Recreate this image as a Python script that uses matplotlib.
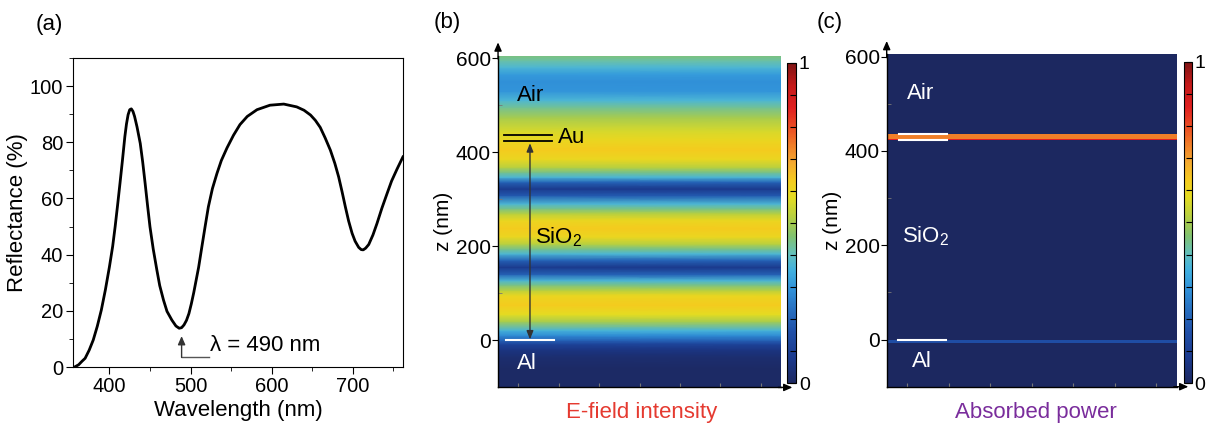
import matplotlib

matplotlib.use("Agg")
import matplotlib.pyplot as plt  # noqa: E402
import numpy as np  # noqa: E402
from matplotlib.colors import LinearSegmentedColormap  # noqa: E402
from matplotlib.ticker import MultipleLocator  # noqa: E402

plt.rcParams["font.family"] = ["Liberation Sans", "DejaVu Sans"]
plt.rcParams["mathtext.fontset"] = "custom"
plt.rcParams["mathtext.rm"] = "Liberation Sans"
plt.rcParams["mathtext.it"] = "Liberation Sans:italic"

# (a) reflectance spectrum
wavelength = [357, 362, 366, 370, 375, 380, 385, 390, 395, 400, 404, 407, 410, 413, 416,
              419, 421, 423, 425, 427, 429, 431, 434, 438, 441, 444, 447, 450, 454, 458.5,
              462, 466.7, 471, 477, 482, 486, 489, 492, 495, 498, 501, 504, 507, 510, 514,
              518, 522, 527, 532.6, 538, 545, 553, 561, 570, 582, 598, 615, 631, 640, 648,
              654, 660, 666, 672.5, 678, 682.7, 687, 691, 695, 699.3, 703, 707.4, 710.5,
              713, 716, 719.8, 725, 730, 736, 742.5, 748, 754.8, 762]
reflectance = [0.0, 0.8, 2.0, 3.1, 6.0, 9.6, 14.5, 20.3, 27.5, 35.7, 43.0, 49.9, 57.5, 65.4,
               73.5, 82.0, 86.5, 89.8, 91.6, 91.9, 91.0, 89.2, 85.5, 79.6, 73.0, 65.4, 57.5,
               49.9, 42.0, 34.5, 29.0, 23.8, 19.8, 16.7, 14.6, 13.8, 14.0, 15.0, 16.6, 19.0,
               22.5, 26.5, 31.0, 35.5, 42.8, 50.0, 57.0, 63.5, 68.9, 73.5, 78.0, 82.5, 86.3,
               89.2, 91.6, 93.2, 93.6, 92.6, 91.4, 89.7, 87.8, 85.3, 81.6, 77.2, 72.5, 67.7,
               62.3, 57.0, 52.0, 47.6, 44.8, 42.6, 41.8, 41.7, 42.3, 43.6, 47.0, 51.1, 56.5,
               61.8, 66.2, 70.5, 74.8]

# (b) normalised E-field intensity vs z (nm)
field_z = [-100, -60, -35, -20, -8, 0, 10, 21, 40, 55, 75, 95, 106, 118, 127, 140, 155,
           170, 184, 194, 205, 220, 238, 255, 269, 280, 290, 308, 322, 336, 347, 357, 368,
           385, 405, 425, 445, 473, 495, 510, 530, 550, 565, 580, 595, 605]
field_intensity = [0.01, 0.01, 0.03, 0.06, 0.12, 0.2, 0.28, 0.36, 0.5, 0.58, 0.63, 0.6,
                   0.52, 0.44, 0.37, 0.2, 0.08, 0.2, 0.37, 0.44, 0.52, 0.6, 0.63, 0.6,
                   0.52, 0.44, 0.37, 0.18, 0.08, 0.2, 0.37, 0.44, 0.52, 0.6, 0.63, 0.6,
                   0.56, 0.5, 0.43, 0.37, 0.3, 0.29, 0.31, 0.37, 0.42, 0.45]

# (c) absorbed power: layer edges in z (nm) and normalised value per layer
absorb_edges = [-100, -7, -1, 423, 426, 436, 605]
absorb_values = [0.0, 0.15, 0.0, 0.86, 0.74, 0.0]

cmap = LinearSegmentedColormap.from_list("field", [
    (0.00, "#1c2860"), (0.08, "#1b3a8e"), (0.16, "#2050a8"), (0.23, "#2870c0"),
    (0.29, "#3090d8"), (0.35, "#40b0e0"), (0.40, "#62c0c0"), (0.46, "#82c26e"),
    (0.52, "#b8d040"), (0.58, "#e4dc22"), (0.63, "#f4cc1e"), (0.69, "#f4a830"),
    (0.74, "#f08028"), (0.79, "#ec5424"), (0.86, "#e02020"), (0.93, "#c41a1a"),
    (1.00, "#7e1414")])


def style_map(ax, cax, mesh, fig):
    ax.set_xlim(-350, 350)
    ax.set_ylim(-100, 605)
    ax.set_xticks(np.arange(-300, 301, 100))
    ax.set_xticklabels([])
    ax.set_yticks([0, 200, 400, 600])
    ax.yaxis.set_minor_locator(MultipleLocator(100))
    ax.tick_params(axis="y", which="major", direction="out", length=4, labelsize=15, pad=1)
    ax.tick_params(axis="y", which="minor", direction="in", length=3, color="#777")
    ax.tick_params(axis="x", direction="in", length=3, color="#777")
    ax.set_ylabel("z (nm)", fontsize=15, labelpad=2)
    for s in ("top", "right"):
        ax.spines[s].set_visible(False)
    for s in ("left", "bottom"):
        ax.spines[s].set_linewidth(1.0)
    arrow = dict(arrowstyle="-|>,head_length=0.5,head_width=0.22", color="k", lw=1,
                 shrinkA=0, shrinkB=0)
    ax.annotate("", xy=(0, 1.04), xytext=(0, 0.99), xycoords="axes fraction",
                arrowprops=arrow, annotation_clip=False)
    ax.annotate("", xy=(1.04, 0), xytext=(0.99, 0), xycoords="axes fraction",
                arrowprops=arrow, annotation_clip=False)
    cb = fig.colorbar(mesh, cax=cax)
    cb.set_ticks(np.linspace(0, 1, 11))
    cb.set_ticklabels(["0"] + [""] * 9 + ["1"])
    cb.ax.tick_params(direction="in", length=4, width=0.8, labelsize=14, pad=2)
    cb.outline.set_linewidth(0.8)


fig = plt.figure(figsize=(12.1, 4.3), dpi=100)

# ---- (a)
ax_a = fig.add_axes([0.0603, 0.1465, 0.2727, 0.7186])
ax_a.plot(wavelength, reflectance, color="k", lw=2, solid_joinstyle="round")
ax_a.set_xlim(355, 762)
ax_a.set_ylim(0, 110)
ax_a.set_xticks([400, 500, 600, 700])
ax_a.xaxis.set_minor_locator(MultipleLocator(50))
ax_a.set_yticks([0, 20, 40, 60, 80, 100])
ax_a.yaxis.set_minor_locator(MultipleLocator(10))
ax_a.tick_params(which="major", direction="out", length=5, labelsize=14.5, pad=2)
ax_a.tick_params(which="minor", direction="out", length=3)
ax_a.set_xlabel("Wavelength (nm)", fontsize=16, labelpad=3)
ax_a.set_ylabel("Reflectance (%)", fontsize=16, labelpad=1)
ax_a.annotate("", xy=(489, 11), xytext=(489, 3.4),
              arrowprops=dict(arrowstyle="-|>,head_length=0.5,head_width=0.22",
                              color="#333", lw=1, shrinkA=0, shrinkB=0))
ax_a.plot([489, 523], [3.4, 3.4], color="#555", lw=1)
ax_a.text(524, 7.5, "λ = 490 nm", fontsize=16, va="center", ha="left")

# ---- (b)
ax_b = fig.add_axes([0.4116, 0.0990, 0.2339, 0.7715])
cax_b = fig.add_axes([0.6502, 0.1086, 0.0077, 0.7456])
field_grid = np.column_stack([field_intensity, field_intensity])
mesh_b = ax_b.pcolormesh([-350, 350], field_z, field_grid, cmap=cmap, vmin=0, vmax=1,
                         shading="gouraud", rasterized=True)
style_map(ax_b, cax_b, mesh_b, fig)
ax_b.plot([-335, -217], [436, 436], color="k", lw=1.3)
ax_b.plot([-335, -217], [423, 423], color="k", lw=1.3)
ax_b.plot([-330, -211], [0, 0], color="white", lw=1.5)
ax_b.annotate("", xy=(-271, 419), xytext=(-271, 2),
              arrowprops=dict(arrowstyle="<|-|>,head_length=0.5,head_width=0.2",
                              color="#333", lw=1, shrinkA=0, shrinkB=0))
ax_b.text(-303, 521, "Air", fontsize=16, va="center")
ax_b.text(-202, 432, "Au", fontsize=16, va="center")
ax_b.text(-258, 220, "SiO$_2$", fontsize=16, va="center")
ax_b.text(-303, -49, "Al", fontsize=16, va="center", color="white")

# ---- (c)
ax_c = fig.add_axes([0.7328, 0.1007, 0.2397, 0.7730])
cax_c = fig.add_axes([0.9785, 0.1086, 0.0064, 0.7480])
absorb_grid = np.column_stack([absorb_values])
mesh_c = ax_c.pcolormesh([-350, 350], absorb_edges, absorb_grid, cmap=cmap, vmin=0, vmax=1,
                         shading="flat", rasterized=True)
style_map(ax_c, cax_c, mesh_c, fig)
ax_c.plot([-320, -204], [436, 436], color="white", lw=1.5)
ax_c.plot([-320, -204], [424, 424], color="white", lw=1.5)
ax_c.plot([-322, -207], [0, 0], color="white", lw=1.5)
ax_c.text(-300, 521, "Air", fontsize=16, va="center", color="white")
ax_c.text(-314, 220, "SiO$_2$", fontsize=16, va="center", color="white")
ax_c.text(-290, -46, "Al", fontsize=16, va="center", color="white")

# panel letters and captions
fig.text(0.041, 0.944, "(a)", fontsize=16, ha="center", va="center")
fig.text(0.370, 0.948, "(b)", fontsize=16, ha="center", va="center")
fig.text(0.686, 0.948, "(c)", fontsize=16, ha="center", va="center")
fig.text(0.530, 0.040, "E-field intensity", fontsize=16, ha="center", va="center",
         color="#e53a30")
fig.text(0.856, 0.040, "Absorbed power", fontsize=16, ha="center", va="center",
         color="#7a2d9c")

fig.savefig("out.png", dpi=100)
